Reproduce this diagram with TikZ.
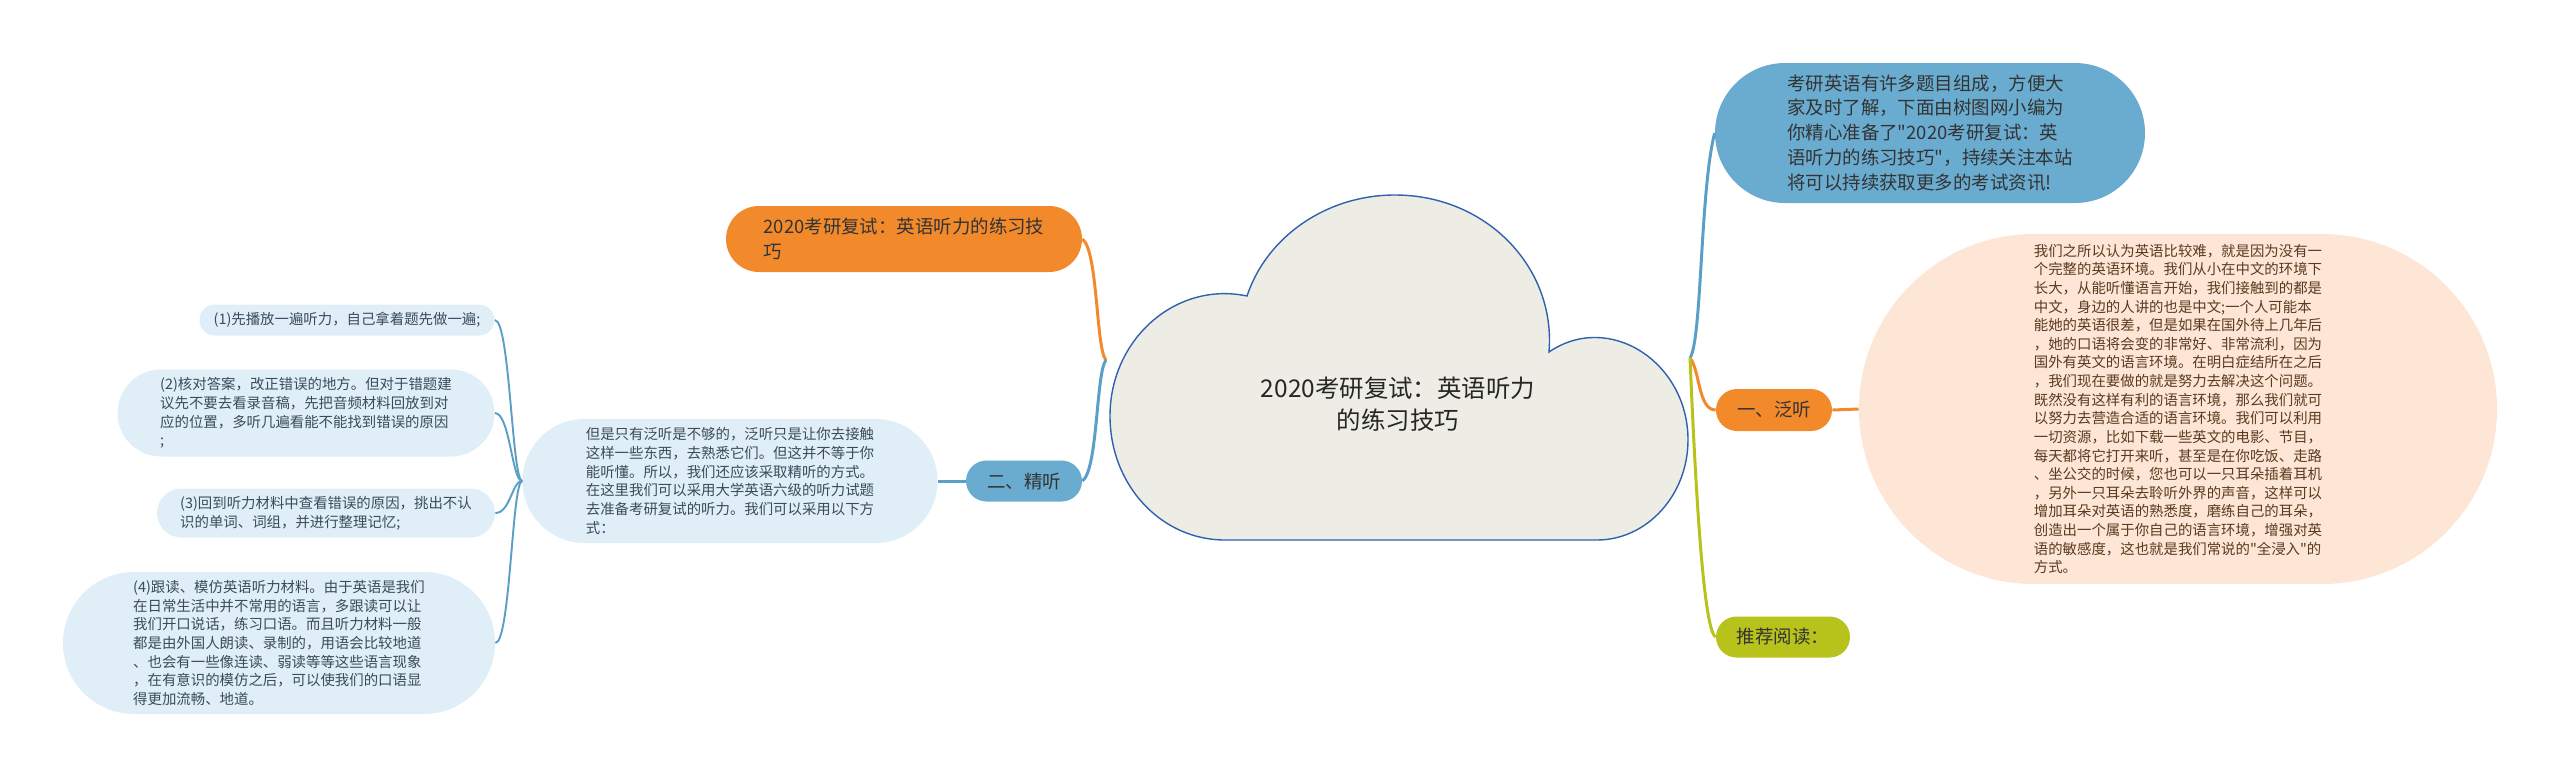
\documentclass[tikz,border=0pt]{standalone}
\usepackage{fontspec}
\setmainfont{Noto Sans CJK SC}[Ligatures=TeXOff]
\usetikzlibrary{shapes.misc}
\definecolor{nodeblue}{HTML}{6AACD0}
\definecolor{lineblue}{HTML}{5B9FC7}
\definecolor{nodeorange}{HTML}{F28A2C}
\definecolor{nodegreen}{HTML}{B7C21B}
\definecolor{peach}{HTML}{FDE6D6}
\definecolor{paleblue}{HTML}{DFEEF7}
\definecolor{cloudfill}{HTML}{EEEDE5}
\definecolor{cloudline}{HTML}{2F62AE}
\definecolor{txt}{HTML}{333333}
\definecolor{peachtxt}{HTML}{5B3A1F}
\definecolor{paletxt}{HTML}{3A4B5B}
\begin{document}
\begin{tikzpicture}[x=0.2mm,y=-0.2mm,
  pill/.style={rounded rectangle,inner xsep=0pt,inner ysep=0pt,align=left},
  big/.style={pill,font=\fontsize{10.5}{14.2}\selectfont,text=txt},
  small/.style={pill,font=\fontsize{8.2}{10.6}\selectfont},
  branch/.style={line width=1.7pt},
  twig/.style={line width=1.1pt,lineblue}]
\useasboundingbox (0,0) rectangle (2560,777);
\draw[cloudline,fill=cloudfill,line width=0.8pt] (1225,540) .. controls (1161,540) and (1110,485) .. (1110,416)
  .. controls (1110,339) and (1176,281) .. (1247,296)
  .. controls (1267,236) and (1327,195) .. (1395,195)
  .. controls (1486,195) and (1556,267) .. (1549,352)
  .. controls (1609,311) and (1688,362) .. (1688,440)
  .. controls (1688,495) and (1647,540) .. (1597,540) -- cycle;
\node[font=\fontsize{13.9}{18}\selectfont,align=center,text=black!85] (root) at (1398,404) {2020考研复试：英语听力\\的练习技巧};
\coordinate (L) at (1106,360);
\coordinate (R) at (1690,358);
\node[big,fill=nodeblue,minimum width=86mm,minimum height=28mm] (intro) at (1930,133) {考研英语有许多题目组成，方便大\\家及时了解，下面由树图网小编为\\你精心准备了"2020考研复试：英\\语听力的练习技巧"，持续关注本站\\将可以持续获取更多的考试资讯!};
\node[big,fill=nodeorange,minimum width=23.2mm,minimum height=8.4mm] (fan) at (1774,410) {一、泛听};
\node[big,fill=nodegreen,minimum width=26.8mm,minimum height=8.2mm] (rec) at (1783,637) {推荐阅读：};
\node[small,fill=peach,text=peachtxt,minimum width=127.6mm,minimum height=70mm] (fandet) at (2178,409) {我们之所以认为英语比较难，就是因为没有一\\个完整的英语环境。我们从小在中文的环境下\\长大，从能听懂语言开始，我们接触到的都是\\中文，身边的人讲的也是中文;一个人可能本\\能她的英语很差，但是如果在国外待上几年后\\，她的口语将会变的非常好、非常流利，因为\\国外有英文的语言环境。在明白症结所在之后\\，我们现在要做的就是努力去解决这个问题。\\既然没有这样有利的语言环境，那么我们就可\\以努力去营造合适的语言环境。我们可以利用\\一切资源，比如下载一些英文的电影、节目，\\每天都将它打开来听，甚至是在你吃饭、走路\\、坐公交的时候，您也可以一只耳朵插着耳机\\，另外一只耳朵去聆听外界的声音，这样可以\\增加耳朵对英语的熟悉度，磨练自己的耳朵，\\创造出一个属于你自己的语言环境，增强对英\\语的敏感度，这也就是我们常说的"全浸入"的\\方式。};
\node[big,fill=nodeorange,minimum width=71.2mm,minimum height=13.2mm] (title) at (904,239) {2020考研复试：英语听力的练习技\\巧};
\node[big,fill=nodeblue,minimum width=23.2mm,minimum height=8.2mm] (jing) at (1024,481) {二、精听};
\node[small,fill=paleblue,text=paletxt,minimum width=83mm,minimum height=24.8mm] (jingdet) at (730,481) {但是只有泛听是不够的，泛听只是让你去接触\\这样一些东西，去熟悉它们。但这并不等于你\\能听懂。所以，我们还应该采取精听的方式。\\在这里我们可以采用大学英语六级的听力试题\\去准备考研复试的听力。我们可以采用以下方\\式：};
\node[small,fill=paleblue,text=paletxt,minimum width=59mm,minimum height=6.2mm] (s1) at (347,320) {(1)先播放一遍听力，自己拿着题先做一遍;};
\node[small,fill=paleblue,text=paletxt,minimum width=75.4mm,minimum height=17.4mm] (s2) at (306,413) {(2)核对答案，改正错误的地方。但对于错题建\\议先不要去看录音稿，先把音频材料回放到对\\应的位置，多听几遍看能不能找到错误的原因\\;};
\node[small,fill=paleblue,text=paletxt,minimum width=67.6mm,minimum height=9.8mm] (s3) at (326,513) {(3)回到听力材料中查看错误的原因，挑出不认\\识的单词、词组，并进行整理记忆;};
\node[small,fill=paleblue,text=paletxt,minimum width=86.4mm,minimum height=28.4mm] (s4) at (279,643) {(4)跟读、模仿英语听力材料。由于英语是我们\\在日常生活中并不常用的语言，多跟读可以让\\我们开口说话，练习口语。而且听力材料一般\\都是由外国人朗读、录制的，用语会比较地道\\、也会有一些像连读、弱读等等这些语言现象\\，在有意识的模仿之后，可以使我们的口语显\\得更加流畅、地道。};
\draw[branch,lineblue] (R) .. controls (1702,340) and (1700,190) .. (intro.west);
\draw[branch,nodeorange] (R) .. controls (1700,370) and (1698,410) .. (fan.west);
\draw[branch,nodegreen] (R) .. controls (1694,450) and (1702,630) .. (rec.west);
\draw[branch,nodeorange] (fan.east) -- (fandet.west);
\draw[branch,nodeorange] (title.east) .. controls (1098,250) and (1096,350) .. (L);
\draw[branch,lineblue] (jing.east) .. controls (1098,470) and (1096,372) .. (L);
\draw[branch,lineblue] (jing.west) -- (jingdet.east);
\foreach \s in {s1,s2,s3,s4}
  \draw[twig] (jingdet.west) .. controls (512,481) and ([xshift=3mm]\s.east) .. (\s.east);
\end{tikzpicture}
\end{document}
